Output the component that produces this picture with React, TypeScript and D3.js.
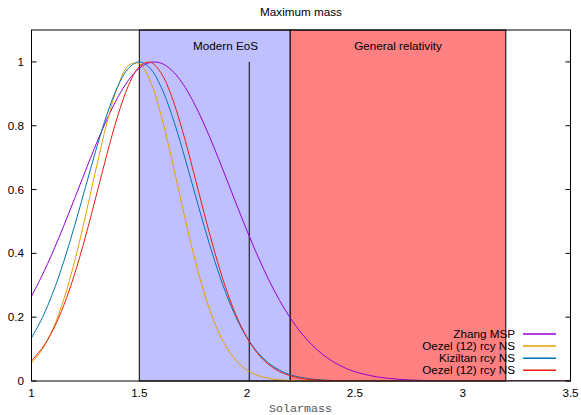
import React from "react";
import * as d3 from "d3";

const xs = [1.0,1.05,1.1,1.15,1.2,1.25,1.3,1.35,1.4,1.45,1.5,1.55,1.6,1.65,1.7,1.75,1.8,1.85,1.9,1.95,2.0,2.05,2.1,2.15,2.2,2.25,2.3,2.35,2.4,2.45,2.5,2.6,2.7,2.8,2.9,3.0,3.1,3.2,3.3,3.4,3.5];
const zhangMSP = [0.2655,0.3317,0.4059,0.4868,0.5719,0.6584,0.7426,0.8207,0.8887,0.9429,0.9802,0.9984,0.9963,0.9742,0.9333,0.8761,0.8058,0.7261,0.6412,0.5547,0.4701,0.3905,0.3177,0.2533,0.1979,0.1515,0.1136,0.0835,0.0601,0.0424,0.0293,0.0132,0.0055,0.0021,0.0007,0.0002,0.0001,0,0,0,0];
const oezelA = [0.0561,0.0992,0.1645,0.2564,0.3753,0.5162,0.667,0.8096,0.9231,0.9888,0.995,0.9406,0.8353,0.6968,0.5461,0.402,0.278,0.1806,0.1103,0.0632,0.034,0.0172,0.0082,0.0037,0.0015,0.0006,0.0002,0.0001,0,0,0,0,0,0,0,0,0,0,0,0,0];
const kiziltan = [0.1353,0.1979,0.278,0.3753,0.4868,0.6065,0.7261,0.8353,0.9231,0.9802,1.0,0.9802,0.9231,0.8353,0.7261,0.6065,0.4868,0.3753,0.278,0.1979,0.1353,0.0889,0.0561,0.034,0.0198,0.0111,0.006,0.0031,0.0015,0.0007,0.0003,0.0001,0,0,0,0,0,0,0,0,0];
const oezelB = [0.0635,0.1034,0.1604,0.2375,0.3354,0.4516,0.5802,0.7109,0.8309,0.9263,0.985,0.9991,0.9666,0.8919,0.7851,0.6592,0.5279,0.4032,0.2938,0.2042,0.1353,0.0856,0.0516,0.0297,0.0163,0.0085,0.0043,0.002,0.0009,0.0004,0.0002,0,0,0,0,0,0,0,0,0,0];

const seriesNames = ["Zhang MSP", "Oezel (12) rcy NS", "Kiziltan rcy NS", "Oezel (12) rcy NS"];
const seriesValues = [zhangMSP, oezelA, kiziltan, oezelB];
const seriesColors = ["#9400d3", "#e69f00", "#0072b2", "#e51e10"];

const xTicks = [1, 1.5, 2, 2.5, 3, 3.5];
const yTicks = [0, 0.2, 0.4, 0.6, 0.8, 1];

const regionBounds = [[1.5, 2.2], [2.2, 3.2]];
const regionLabels = ["Modern EoS", "General relativity"];
const regionLabelX = [1.9, 2.7];
const regionColors = ["#c0c0ff", "#ff8080"];
const eosLine = 2.01;

export default function App() {
  const W = 581, H = 415;
  const x = d3.scaleLinear().domain([1, 3.5]).range([31.5, 570.5]);
  const y = d3.scaleLinear().domain([0, 1.1]).range([381, 30]);
  const font = "'Liberation Sans', Arial, Helvetica, sans-serif";
  const line = d3.line<number>()
    .x((_, i) => x(xs[i]))
    .y((d) => y(d))
    .curve(d3.curveCatmullRom);
  const [x0, x1] = x.range();
  const [y0, y1] = y.range();
  return (
    <div style={{ position: "absolute", left: 0, top: 0 }}>
      <svg width={W} height={H} style={{ display: "block" }}>
        <rect x={0} y={0} width={W} height={H} fill="#fff" />
        <defs>
          <clipPath id="plotclip">
            <rect x={x0} y={y1} width={x1 - x0} height={y0 - y1} />
          </clipPath>
        </defs>
        {regionBounds.map((b, i) => (
          <rect key={i} x={x(b[0])} y={y(1.1)} width={x(b[1]) - x(b[0])} height={y(0) - y(1.1)}
            fill={regionColors[i]} stroke="#000" strokeWidth={1} />
        ))}
        {regionLabels.map((t, i) => (
          <text key={i} x={x(regionLabelX[i])} y={y(1.05) + 4.5} textAnchor="middle"
            fontFamily={font} fontSize={11.7} fill="#000">{t}</text>
        ))}
        <line x1={x(eosLine)} x2={x(eosLine)} y1={y(1)} y2={y(0)} stroke="#000" strokeWidth={1} />
        <g clipPath="url(#plotclip)">
          {seriesValues.map((v, i) => (
            <path key={i} d={line(v) || ""} fill="none" stroke={seriesColors[i]} strokeWidth={1} />
          ))}
        </g>
        {yTicks.map((t) => (
          <g key={t}>
            <line x1={x0} x2={x0 + 5} y1={y(t)} y2={y(t)} stroke="#000" />
            <line x1={x1} x2={x1 - 5} y1={y(t)} y2={y(t)} stroke="#000" />
            <text x={24} y={y(t) + 4} textAnchor="end" fontFamily={font} fontSize={11.7} fill="#000">{t}</text>
          </g>
        ))}
        {xTicks.map((t) => (
          <text key={t} x={x(t)} y={397} textAnchor="middle" fontFamily={font} fontSize={11.7} fill="#000">{t}</text>
        ))}
        <rect x={x0} y={y1} width={x1 - x0} height={y0 - y1} fill="none" stroke="#000" strokeWidth={1} />
        {seriesNames.map((n, i) => (
          <g key={i}>
            <text x={515} y={334 + i * 12.1 + 4} textAnchor="end" fontFamily={font} fontSize={11.7} fill="#000">{n}</text>
            <line x1={523} x2={556} y1={334 + i * 12.1} y2={334 + i * 12.1} stroke={seriesColors[i]} strokeWidth={1.5} />
          </g>
        ))}
        <text x={301} y={16} textAnchor="middle" fontFamily={font} fontSize={11.7} fill="#000">Maximum mass</text>
        <text x={300.5} y={411.5} textAnchor="middle" fontFamily="'Liberation Mono', 'DejaVu Sans Mono', monospace" fontSize={11.7} fill="#555">Solarmass</text>
      </svg>
    </div>
  );
}
